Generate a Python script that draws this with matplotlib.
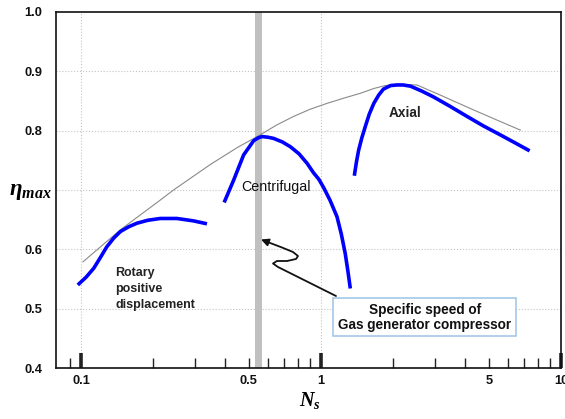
import matplotlib
matplotlib.use("Agg")
from matplotlib import pyplot as plt
from matplotlib.path import Path
from matplotlib.patches import FancyArrowPatch
from matplotlib.ticker import FixedLocator, FuncFormatter

plt.rcParams["font.family"] = ["Liberation Sans", "DejaVu Sans"]
plt.rcParams["mathtext.fontset"] = "custom"
plt.rcParams["mathtext.it"] = "Liberation Serif:italic:bold"
plt.rcParams["mathtext.rm"] = "Liberation Serif:bold"

# values (Ns, max efficiency)
rotary_ns = [0.097, 0.105, 0.113, 0.120, 0.128, 0.137, 0.146, 0.158, 0.171, 0.190, 0.214, 0.251, 0.294, 0.335]
rotary_eta = [0.540, 0.553, 0.568, 0.585, 0.604, 0.619, 0.630, 0.638, 0.644, 0.649, 0.652, 0.652, 0.648, 0.643]

centrif_ns = [0.395, 0.433, 0.476, 0.524, 0.548, 0.568, 0.600, 0.634, 0.690, 0.745, 0.810,
              0.875, 0.931, 0.980, 1.026, 1.09, 1.166, 1.215, 1.262, 1.295, 1.325]
centrif_eta = [0.679, 0.717, 0.759, 0.783, 0.788, 0.790, 0.789, 0.787, 0.781, 0.773, 0.761,
               0.745, 0.729, 0.718, 0.704, 0.683, 0.655, 0.626, 0.593, 0.563, 0.534]

axial_ns = [1.377, 1.405, 1.435, 1.48, 1.53, 1.59, 1.66, 1.74, 1.82, 1.95, 2.07, 2.20, 2.36,
            2.62, 2.94, 3.45, 4.06, 4.75, 5.58, 6.40, 7.40]
axial_eta = [0.724, 0.747, 0.767, 0.788, 0.807, 0.828, 0.846, 0.860, 0.870, 0.876, 0.877, 0.877, 0.875,
             0.867, 0.857, 0.841, 0.824, 0.808, 0.793, 0.780, 0.766]

envelope_ns = [0.102, 0.146, 0.214, 0.243, 0.346, 0.450, 0.559, 0.650, 0.769, 0.900, 1.06, 1.25,
               1.46, 1.66, 1.85, 2.07, 2.51, 3.14, 4.32, 5.40, 6.77]
envelope_eta = [0.579, 0.633, 0.683, 0.700, 0.743, 0.772, 0.793, 0.809, 0.824, 0.836, 0.846, 0.855,
                0.863, 0.871, 0.876, 0.878, 0.877, 0.860, 0.835, 0.818, 0.801]

gas_gen_ns = (0.532, 0.568)   # band for gas generator compressor

x_major = [0.1, 1, 10]
x_minor = [0.09, 0.2, 0.3, 0.4, 0.5, 0.6, 0.7, 0.8, 0.9, 2, 3, 4, 5, 6, 7, 8, 9]
x_minor_labels = {0.5: "0.5", 5: "5"}
y_ticks = [0.4, 0.5, 0.6, 0.7, 0.8, 0.9, 1.0]

fig = plt.figure(figsize=(5.65, 4.19), dpi=100)
ax = fig.add_axes([0.0991, 0.1217, 0.8938, 0.8497])

ax.set_xscale("log")
ax.set_xlim(0.0787, 10)
ax.set_ylim(0.4, 1.0)

# grid
for y in y_ticks[1:-1]:
    ax.axhline(y, color="#c4c4c4", lw=0.8, ls=":", zorder=0)
for x in x_major[:-1]:
    ax.axvline(x, color="#c4c4c4", lw=0.8, ls=":", zorder=0)

ax.axvspan(gas_gen_ns[0], gas_gen_ns[1], color="#c0c0c0", lw=0, zorder=1)

ax.plot(envelope_ns, envelope_eta, color="#8a8a8a", lw=0.8, zorder=2)
for xs, ys in [(rotary_ns, rotary_eta), (centrif_ns, centrif_eta), (axial_ns, axial_eta)]:
    ax.plot(xs, ys, color="#0000ff", lw=2.6, solid_capstyle="butt", solid_joinstyle="round", zorder=3)

# ticks
ax.xaxis.set_major_locator(FixedLocator(x_major))
ax.xaxis.set_major_formatter(FuncFormatter(lambda v, p: "%g" % v))
ax.xaxis.set_minor_locator(FixedLocator(x_minor))
ax.xaxis.set_minor_formatter(FuncFormatter(lambda v, p: x_minor_labels.get(round(v, 2), "")))
ax.tick_params(axis="x", which="major", direction="in", length=11, width=2.6,
               color="#222222", pad=5, labelsize=9.3, labelcolor="#111111")
ax.tick_params(axis="x", which="minor", direction="in", length=7, width=1,
               color="#222222", pad=5, labelsize=9.3, labelcolor="#111111")
for lab in ax.get_xticklabels(which="both"):
    lab.set_fontweight("bold")

# 0.7 is where the eta label sits, so it gets no number
ax.set_yticks(y_ticks)
ax.set_yticklabels(["" if v == 0.7 else "%.1f" % v for v in y_ticks], fontweight="bold")
ax.tick_params(axis="y", length=0, pad=10, labelsize=9.3, labelcolor="#111111")

for s in ax.spines.values():
    s.set_linewidth(1.2)
    s.set_color("#111111")

# axis labels
fig.text(0.053, 0.545, r"$\eta_{max}$", fontsize=16.5, ha="center", va="center")
fig.text(0.549, 0.045, r"$N_s$", fontsize=14.5, ha="center", va="center")

# curve labels
ax.text(0.139, 0.570, "Rotary\npositive\ndisplacement", fontsize=9, fontweight="bold",
        color="#222222", ha="left", va="top", linespacing=1.45)
ax.text(0.648, 0.7055, "Centrifugal", fontsize=10.3, color="#111111", ha="center", va="center")
ax.text(2.24, 0.830, "Axial", fontsize=9.8, fontweight="bold", color="#222222",
        ha="center", va="center")

ax.text(0.730, 0.1425, "Specific speed of\nGas generator compressor", transform=ax.transAxes,
        fontsize=9.8, fontweight="bold", color="#111111", ha="center", va="center",
        linespacing=1.05, zorder=6,
        bbox=dict(boxstyle="square,pad=0.35", facecolor="white", edgecolor="#9dc3e6", lw=1.1))

# squiggly arrow pointing at the band (pixel path converted to axes fraction)
pix = [(336, 296), (310, 283), (290, 273), (278, 267), (273, 263.5), (277, 261),
       (287, 261), (296, 259), (298, 256), (293, 252), (282, 247.5), (261, 239.5)]
verts = [((px - 56) / 505.0, (368 - py) / 356.0) for px, py in pix]
arrow = FancyArrowPatch(path=Path(verts), arrowstyle="-|>", mutation_scale=11,
                        color="#111111", lw=1.3, transform=ax.transAxes, zorder=5)
ax.add_patch(arrow)

fig.savefig("out.png", dpi=100)
